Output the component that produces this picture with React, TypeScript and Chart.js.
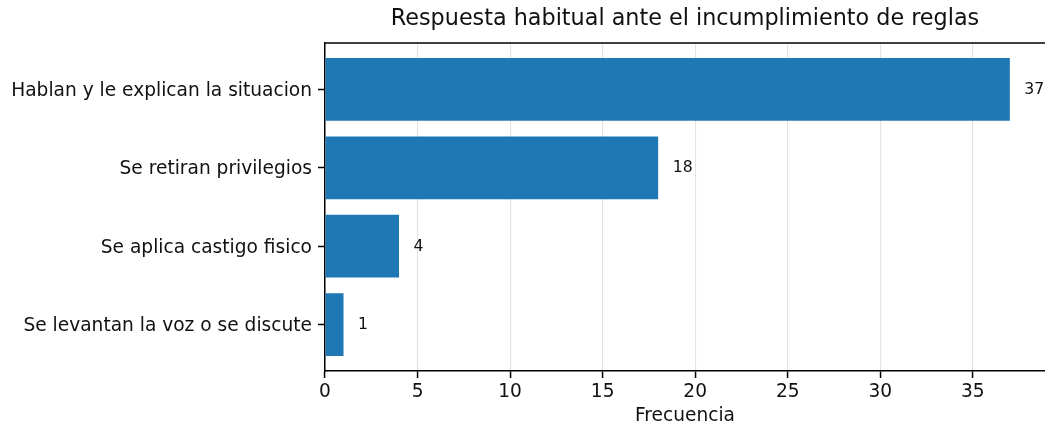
import React, { useEffect, useRef } from "react";
import { Chart, registerables } from "chart.js";

Chart.register(...registerables);

const categories = [
  "Hablan y le explican la situacion",
  "Se retiran privilegios",
  "Se aplica castigo fisico",
  "Se levantan la voz o se discute",
];
const frequencies = [37, 18, 4, 1];
const xTicks = [0, 5, 10, 15, 20, 25, 30, 35];
const chartTitle = "Respuesta habitual ante el incumplimiento de reglas";
const xTitle = "Frecuencia";

const FONT = "'DejaVu Sans', sans-serif";
const TEXT = "#111";

const overlayPlugin = {
  id: "overlay",
  afterDraw(chart: any) {
    const { ctx, chartArea } = chart;
    ctx.save();
    // top spine
    ctx.strokeStyle = "#000";
    ctx.lineWidth = 1.5;
    ctx.beginPath();
    ctx.moveTo(chartArea.left - 0.75, chartArea.top);
    ctx.lineTo(chartArea.right + 2, chartArea.top);
    ctx.stroke();
    // title
    const cx = (chartArea.left + chartArea.right) / 2;
    ctx.fillStyle = TEXT;
    ctx.textAlign = "center";
    ctx.textBaseline = "middle";
    ctx.font = `22.3px ${FONT}`;
    ctx.fillText(chartTitle, cx, 19);
    // x title
    ctx.font = `18.6px ${FONT}`;
    ctx.fillText(xTitle, cx, 416);
    // value labels
    const meta = chart.getDatasetMeta(0);
    ctx.font = `15.7px ${FONT}`;
    ctx.textAlign = "left";
    meta.data.forEach((bar: any, i: number) => {
      ctx.fillText(String(frequencies[i]), bar.x + 14.5, bar.y + 0.5);
    });
    ctx.restore();
  },
};

export default function App() {
  const ref = useRef<HTMLCanvasElement | null>(null);
  useEffect(() => {
    if (!ref.current) return;
    const chart = new Chart(ref.current, {
      type: "bar",
      data: {
        datasets: [
          {
            data: categories.map((_, i) => ({ x: frequencies[i], y: i })),
            backgroundColor: "#1f77b4",
            borderWidth: 0,
            categoryPercentage: 1,
            barPercentage: 0.8,
          } as any,
        ],
      },
      options: {
        indexAxis: "y",
        animation: false,
        responsive: false,
        maintainAspectRatio: false,
        layout: { padding: { top: 43, right: 0, left: 0, bottom: 0 } },
        plugins: {
          legend: { display: false },
          tooltip: { enabled: false },
          title: { display: false },
        },
        scales: {
          x: {
            type: "linear",
            min: 0,
            max: 38.9,
            z: 1,
            offset: false,
            afterBuildTicks: (scale: any) => {
              scale.ticks = xTicks.map((v) => ({ value: v }));
            },
            afterFit: (scale: any) => {
              scale.height = 56;
            },
            grid: {
              color: "rgba(170,170,170,0.33)",
              lineWidth: 1.1,
              offset: false,
              drawTicks: true,
              tickLength: 7,
              tickColor: "#000",
              tickWidth: 1.5,
            },
            border: { display: true, color: "#000", width: 1.5 },
            ticks: {
              color: TEXT,
              font: { family: FONT, size: 18.6 },
              padding: 3,
              maxRotation: 0,
            },
          },
          y: {
            type: "linear",
            min: -0.59,
            max: 3.59,
            reverse: true,
            offset: false,
            afterBuildTicks: (scale: any) => {
              scale.ticks = categories.map((_, i) => ({ value: i }));
            },
            afterFit: (scale: any) => {
              scale.width = 325;
            },
            grid: {
              color: "transparent",
              offset: false,
              drawTicks: true,
              tickLength: 7,
              tickColor: "#000",
              tickWidth: 1.5,
            },
            border: { display: true, color: "#000", width: 1.5 },
            ticks: {
              color: TEXT,
              font: { family: FONT, size: 18.6 },
              padding: 6,
              labelOffset: 1.5,
              callback: (v: any) => categories[v as number] ?? "",
            },
          },
        },
      },
      plugins: [overlayPlugin],
    });
    return () => chart.destroy();
  }, []);
  return (
    <div style={{ position: "fixed", left: 0, top: 0, width: 1045, height: 427, background: "#fff" }}>
      <canvas ref={ref} width={1045} height={427} style={{ width: 1045, height: 427, display: "block" }} />
    </div>
  );
}
